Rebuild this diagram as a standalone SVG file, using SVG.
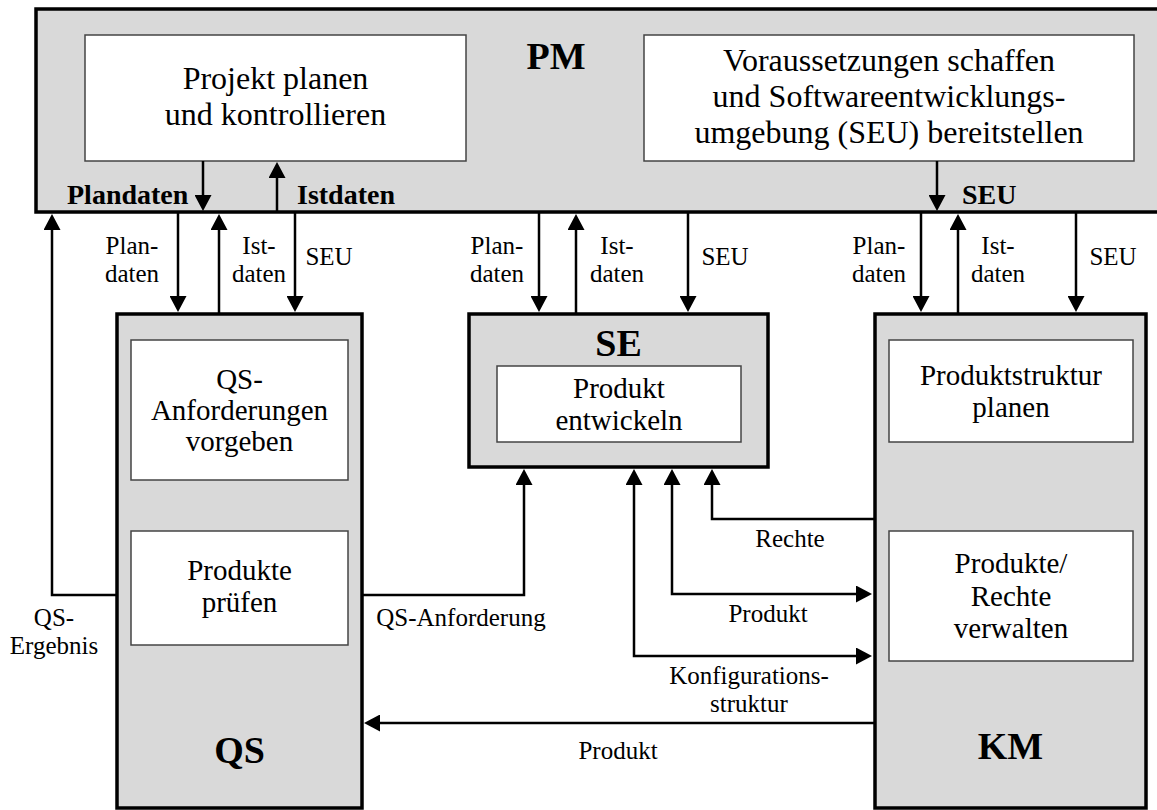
<svg xmlns="http://www.w3.org/2000/svg" width="1157" height="810" viewBox="0 0 1157 810">
<style>
text{font-family:"Liberation Serif","Times New Roman",serif;fill:#000}
.outer{fill:#d9d9d9;stroke:#000;stroke-width:3.5}
.inner{fill:#fff;stroke:#444;stroke-width:1.5}
.t32{font-size:32px;text-anchor:middle}
.t29{font-size:29px;text-anchor:middle}
.lbl{font-size:25px;text-anchor:middle}
.bl{font-size:28px;font-weight:bold}
.title{font-size:38px;font-weight:bold;text-anchor:middle}
.c{fill:none;stroke:#000;stroke-width:2.5;marker-end:url(#ah)}
.cb{fill:none;stroke:#000;stroke-width:2.5;marker-start:url(#ah);marker-end:url(#ah)}
</style>
<defs>
<marker id="ah" viewBox="0 0 16 17" markerWidth="16" markerHeight="17" refX="8" refY="8.5" orient="auto-start-reverse" markerUnits="userSpaceOnUse">
<path d="M0,0 L16,8.5 L0,17 z" fill="#000"/>
</marker>
</defs>
<rect width="1157" height="810" fill="#fff"/>
<g id="PM">
<rect class="outer" x="36" y="9" width="1130" height="203"/>
<text class="title" x="556" y="69">PM</text>
</g>
<g id="PM-plan">
<rect class="inner" x="85" y="35" width="381" height="126"/>
<text class="t32" x="275.5" y="89">Projekt planen</text>
<text class="t32" x="275.5" y="125">und kontrollieren</text>
</g>
<g id="PM-seu">
<rect class="inner" x="644" y="35" width="490" height="126"/>
<text class="t32" x="889" y="71">Voraussetzungen schaffen</text>
<text class="t32" x="889" y="107">und Softwareentwicklungs-</text>
<text class="t32" x="889" y="143">umgebung (SEU) bereitstellen</text>
</g>
<g id="QS">
<rect class="outer" x="117" y="314" width="245" height="494"/>
<text class="title" x="239.5" y="763">QS</text>
</g>
<g id="QS-anf">
<rect class="inner" x="131" y="340" width="217" height="140"/>
<text class="t29" x="239.5" y="389">QS-</text>
<text class="t29" x="239.5" y="420">Anforderungen</text>
<text class="t29" x="239.5" y="451">vorgeben</text>
</g>
<g id="QS-pruef">
<rect class="inner" x="131" y="531" width="217" height="114"/>
<text class="t29" x="239.5" y="580">Produkte</text>
<text class="t29" x="239.5" y="612">prüfen</text>
</g>
<g id="SE">
<rect class="outer" x="469" y="314" width="299" height="153"/>
<text class="title" x="618.5" y="356">SE</text>
</g>
<g id="SE-entw">
<rect class="inner" x="497" y="366" width="244" height="76"/>
<text class="t29" x="619" y="398">Produkt</text>
<text class="t29" x="619" y="430">entwickeln</text>
</g>
<g id="KM">
<rect class="outer" x="875" y="314" width="271" height="494"/>
<text class="title" x="1010.5" y="759">KM</text>
</g>
<g id="KM-struktur">
<rect class="inner" x="889" y="340" width="244" height="102"/>
<text class="t29" x="1011" y="385">Produktstruktur</text>
<text class="t29" x="1011" y="417">planen</text>
</g>
<g id="KM-verw">
<rect class="inner" x="889" y="531" width="244" height="130"/>
<text class="t29" x="1011" y="573">Produkte/</text>
<text class="t29" x="1011" y="606">Rechte</text>
<text class="t29" x="1011" y="638">verwalten</text>
</g>
<g id="connectors">
<path class="c" d="M203,161 V203"/>
<path class="c" d="M277,211 V170"/>
<path class="c" d="M937,161 V203"/>
<path class="c" d="M178,213 V304"/>
<path class="c" d="M219,313 V222"/>
<path class="c" d="M295,213 V304"/>
<path class="c" d="M539,213 V304"/>
<path class="c" d="M576,313 V222"/>
<path class="c" d="M688,213 V304"/>
<path class="c" d="M921,213 V304"/>
<path class="c" d="M958,313 V222"/>
<path class="c" d="M1076,213 V304"/>
<path class="c" d="M117,595 H52 V222"/>
<path class="c" d="M362,595 H524 V477"/>
<path class="c" d="M874,519 H712 V477"/>
<path class="cb" d="M672,477 V594 H864"/>
<path class="cb" d="M634,477 V656 H864"/>
<path class="c" d="M874,723 H372"/>
</g>
<g id="labels">
<text class="bl" x="67" y="204">Plandaten</text>
<text class="bl" x="297" y="204">Istdaten</text>
<text class="bl" x="962" y="204">SEU</text>
<text class="lbl" x="132" y="254">Plan-</text>
<text class="lbl" x="132" y="282">daten</text>
<text class="lbl" x="259" y="254">Ist-</text>
<text class="lbl" x="259" y="282">daten</text>
<text class="lbl" x="329" y="265">SEU</text>
<text class="lbl" x="497" y="254">Plan-</text>
<text class="lbl" x="617" y="254">Ist-</text>
<text class="lbl" x="617" y="282">daten</text>
<text class="lbl" x="497" y="282">daten</text>
<text class="lbl" x="725" y="265">SEU</text>
<text class="lbl" x="879" y="254">Plan-</text>
<text class="lbl" x="879" y="282">daten</text>
<text class="lbl" x="998" y="254">Ist-</text>
<text class="lbl" x="998" y="282">daten</text>
<text class="lbl" x="1113" y="265">SEU</text>
<text class="lbl" x="54" y="626">QS-</text>
<text class="lbl" x="54" y="654">Ergebnis</text>
<text class="lbl" x="461" y="626">QS-Anforderung</text>
<text class="lbl" x="790" y="547">Rechte</text>
<text class="lbl" x="768" y="622">Produkt</text>
<text class="lbl" x="749" y="684">Konfigurations-</text>
<text class="lbl" x="749" y="712">struktur</text>
<text class="lbl" x="618" y="759">Produkt</text>
</g>
</svg>
